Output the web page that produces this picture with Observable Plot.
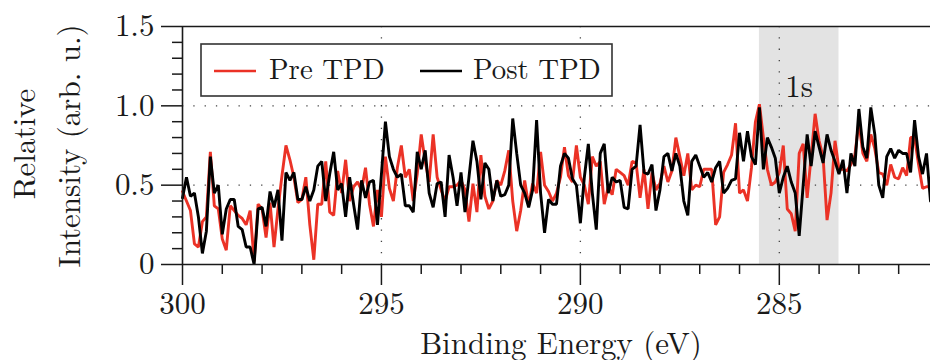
<!DOCTYPE html>
<html>
<head>
<meta charset="utf-8">
<script src="https://cdn.jsdelivr.net/npm/d3@7"></script>
<script src="https://cdn.jsdelivr.net/npm/@observablehq/plot@0.6"></script>
<style>
  html, body { margin: 0; padding: 0; background: #fff; }
  #wrap { position: relative; width: 930px; height: 360px; overflow: hidden; }
  #legend { position: absolute; left: 200px; top: 43px; }
</style>
</head>
<body>
<div id="wrap"></div>
<script>
// ---- data ----
const energy = [
  300,299.9,299.8,299.7,299.6,299.5,299.4,299.3,299.2,299.1,
  299,298.9,298.8,298.7,298.6,298.5,298.4,298.3,298.2,298.1,
  298,297.9,297.8,297.7,297.6,297.5,297.4,297.3,297.2,297.1,
  297,296.9,296.8,296.7,296.6,296.5,296.4,296.3,296.2,296.1,
  296,295.9,295.8,295.7,295.6,295.5,295.4,295.3,295.2,295.1,
  295,294.9,294.8,294.7,294.6,294.5,294.4,294.3,294.2,294.1,
  294,293.9,293.8,293.7,293.6,293.5,293.4,293.3,293.2,293.1,
  293,292.9,292.8,292.7,292.6,292.5,292.4,292.3,292.2,292.1,
  292,291.9,291.8,291.7,291.6,291.5,291.4,291.3,291.2,291.1,
  291,290.9,290.8,290.7,290.6,290.5,290.4,290.3,290.2,290.1,
  290,289.9,289.8,289.7,289.6,289.5,289.4,289.3,289.2,289.1,
  289,288.9,288.8,288.7,288.6,288.5,288.4,288.3,288.2,288.1,
  288,287.9,287.8,287.7,287.6,287.5,287.4,287.3,287.2,287.1,
  287,286.9,286.8,286.7,286.6,286.5,286.4,286.3,286.2,286.1,
  286,285.9,285.8,285.7,285.6,285.5,285.4,285.3,285.2,285.1,
  285,284.9,284.8,284.7,284.6,284.5,284.4,284.3,284.2,284.1,
  284,283.9,283.8,283.7,283.6,283.5,283.4,283.3,283.2,283.1,
  283,282.9,282.8,282.7,282.6,282.5,282.4,282.3,282.2,282.1,
  282,281.9,281.8,281.7,281.6,281.5,281.4,281.3,281.2
];
const preTPD = [
  .46,.40,.34,.13,.11,.27,.30,.71,.37,.35,
  .16,.09,.37,.34,.31,.29,.25,.34,.02,.38,
  .35,.17,.39,.11,.35,.56,.75,.66,.55,.39,
  .41,.55,.25,.03,.38,.38,.65,.33,.31,.59,
  .45,.66,.40,.49,.52,.47,.61,.38,.24,.47,
  .30,.68,.48,.40,.61,.75,.55,.60,.40,.57,
  .82,.65,.52,.82,.55,.47,.40,.49,.49,.50,
  .53,.47,.27,.51,.33,.69,.43,.35,.40,.53,
  .50,.59,.72,.40,.21,.34,.53,.37,.51,.45,
  .71,.50,.46,.40,.45,.55,.74,.56,.52,.75,
  .55,.50,.38,.68,.62,.65,.38,.49,.44,.60,
  .58,.56,.50,.65,.64,.42,.60,.35,.58,.47,
  .51,.62,.52,.59,.80,.68,.56,.70,.47,.50,
  .49,.60,.60,.60,.25,.30,.58,.63,.69,.89,
  .45,.47,.40,.61,.90,1.01,.80,.60,.50,.52,
  .58,.75,.35,.32,.21,.70,.76,.42,.68,.95,
  .78,.68,.28,.45,.78,.60,.60,.59,.63,.69,
  .90,.70,.65,.82,.73,.58,.57,.50,.63,.55,
  .54,.61,.56,.80,.80,.63,.48,.49,.49
];
const postTPD = [
  .42,.55,.43,.45,.30,.07,.21,.68,.45,.50,
  .19,.35,.41,.41,.24,.22,.11,.11,.00,.35,
  .36,.24,.46,.36,.47,.15,.58,.53,.58,.41,
  .41,.49,.40,.47,.62,.65,.40,.57,.71,.47,
  .51,.30,.55,.38,.22,.53,.42,.52,.53,.25,
  .57,.90,.68,.60,.55,.57,.37,.37,.33,.71,
  .60,.72,.45,.36,.51,.52,.30,.69,.55,.37,
  .58,.33,.55,.78,.65,.41,.64,.60,.40,.53,
  .43,.44,.50,.92,.70,.50,.45,.36,.47,.91,
  .45,.20,.41,.38,.38,.62,.70,.67,.54,.50,
  .26,.55,.76,.45,.22,.70,.76,.45,.55,.52,
  .53,.36,.35,.60,.62,.88,.58,.57,.63,.34,
  .47,.68,.70,.59,.70,.62,.40,.31,.65,.69,
  .62,.55,.58,.52,.61,.65,.45,.48,.53,.54,
  .83,.65,.84,.68,.63,.99,.60,.80,.74,.67,
  .45,.55,.62,.52,.45,.18,.50,.82,.62,.84,
  .74,.64,.82,.72,.65,.57,.66,.45,.70,.62,
  .98,.74,.67,.99,.82,.50,.42,.68,.73,.67,
  .72,.70,.70,.58,.91,.68,.57,.70,.40
];
const seriesNames = ["Pre TPD", "Post TPD"];
const seriesColors = ["#eb3226", "#000000"];
const xMajorTicks = [300, 295, 290, 285];
const xMinorTicks = [299, 298, 297, 296, 294, 293, 292, 291, 289, 288, 287, 286, 284, 283, 282];
const yMajorTicks = [0, 0.5, 1.0, 1.5];
const yMinorTicks = [0.1, 0.2, 0.3, 0.4, 0.6, 0.7, 0.8, 0.9, 1.1, 1.2, 1.3, 1.4];
const gridX = [295, 290, 285];
const gridY = [0.5, 1.0];
const bandStart = [285.5];
const bandEnd = [283.5];
const bandLabel = ["1s"];
const bandLabelY = [1.12];
const xTitle = "Binding Energy (eV)";
const yTitle = ["Relative", "Intensity (arb. u.)"];

// ---- build tables ----
const FONT = "Latin Modern Roman";
const pre = energy.map((e, i) => ({energy: e, value: preTPD[i]}));
const post = energy.map((e, i) => ({energy: e, value: postTPD[i]}));
const bands = bandStart.map((s, i) => ({start: s, end: bandEnd[i], mid: (s + bandEnd[i]) / 2, label: bandLabel[i], ly: bandLabelY[i]}));

const axisStyle = {stroke: "#1a1a1a", strokeWidth: 1.5, fill: "#1a1a1a"};

const chart = Plot.plot({
  width: 930,
  height: 360,
  marginLeft: 182,
  marginRight: 0,
  marginTop: 26,
  marginBottom: 96,
  x: {domain: [300, 281.2]},
  y: {domain: [0, 1.5]},
  style: {fontFamily: FONT, fontSize: "31px", color: "#1a1a1a", background: "#fff", overflow: "hidden"},
  marks: [
    Plot.rect(bands, {x1: "start", x2: "end", fill: "#e3e3e3"}),
    Plot.ruleY(gridY, {stroke: "#444", strokeWidth: 1.3, strokeDasharray: "1.3,10"}),
    Plot.ruleX(gridX, {stroke: "#444", strokeWidth: 1.3, strokeDasharray: "1.3,10"}),
    Plot.line(pre, {x: "energy", y: "value", stroke: seriesColors[0], strokeWidth: 2.9, strokeLinejoin: "miter"}),
    Plot.line(post, {x: "energy", y: "value", stroke: seriesColors[1], strokeWidth: 2.9, strokeLinejoin: "miter"}),
    Plot.text(bands, {x: "mid", y: "ly", text: "label", fontSize: 31, fill: "#1a1a1a"}),
    Plot.ruleY([0, 1.5], {stroke: "#1a1a1a", strokeWidth: 1.6}),
    Plot.ruleX([300], {stroke: "#1a1a1a", strokeWidth: 1.6}),
    Plot.axisX(xMajorTicks, {...axisStyle, tickSize: 21, tickPadding: 6, tickFormat: d => String(d), label: null}),
    Plot.axisX(xMinorTicks, {...axisStyle, tickSize: 10, tickFormat: () => "", label: null}),
    Plot.axisY(yMajorTicks, {...axisStyle, tickSize: 21, tickPadding: 7, tickFormat: d => d === 0 ? "0" : d.toFixed(1), label: null}),
    Plot.axisY(yMinorTicks, {...axisStyle, tickSize: 10, tickFormat: () => "", label: null})
  ]
});

const svg = d3.select(chart);
function addLabel(sel, transform, txt, anchor, size) {
  return sel.append("text")
    .attr("font-family", FONT).attr("font-size", size).attr("fill", "#1a1a1a")
    .attr("text-anchor", anchor).attr("transform", transform).text(txt);
}
addLabel(svg, "translate(35,144) rotate(-90)", yTitle[0], "middle", 31);
addLabel(svg, "translate(80,146) rotate(-90)", yTitle[1], "middle", 31);
addLabel(svg, "translate(561,354)", xTitle, "middle", 31);

const wrap = document.getElementById("wrap");
wrap.appendChild(chart);

// legend overlay
const legend = d3.select(wrap).append("svg").attr("id", "legend").attr("width", 415).attr("height", 56);
legend.append("rect").attr("x", 1).attr("y", 1).attr("width", 411).attr("height", 52)
  .attr("fill", "#fff").attr("stroke", "#333").attr("stroke-width", 1.6);
const legendX = [14, 220];
const textX = [69, 273];
seriesNames.forEach((name, i) => {
  legend.append("line").attr("x1", legendX[i]).attr("x2", legendX[i] + 42).attr("y1", 28).attr("y2", 28)
    .attr("stroke", seriesColors[i]).attr("stroke-width", 2.6);
  addLabel(legend, `translate(${textX[i]},36)`, name, "start", 28.8);
});
</script>
</body>
</html>
